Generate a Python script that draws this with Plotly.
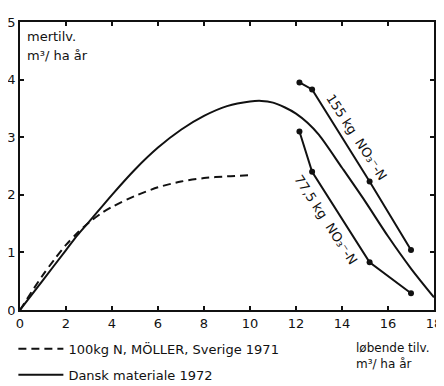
import plotly.graph_objects as go

# ---- data ----
main_x = [0, 1, 2, 2.5, 3, 4, 5, 6, 7, 8, 9, 10, 10.5, 11, 11.5, 12, 12.5, 13, 14, 15, 16, 17, 18]
main_y = [0, 0.52, 1.04, 1.3, 1.53, 2.0, 2.44, 2.82, 3.13, 3.37, 3.54, 3.62, 3.63, 3.6, 3.52, 3.41, 3.25, 3.04, 2.47, 1.89, 1.28, 0.72, 0.22]

moller_x = [0, 0.5, 1, 1.5, 2, 2.5, 3, 3.5, 4, 5, 6, 7, 8, 9, 10]
moller_y = [0, 0.31, 0.61, 0.88, 1.13, 1.34, 1.52, 1.67, 1.79, 1.98, 2.13, 2.23, 2.29, 2.32, 2.34]

n155_x = [12.15, 12.7, 15.2, 17.0]
n155_y = [3.95, 3.83, 2.23, 1.04]

n775_x = [12.15, 12.7, 15.2, 17.0]
n775_y = [3.10, 2.40, 0.83, 0.29]

x_ticks = [0, 2, 4, 6, 8, 10, 12, 14, 16, 18]
y_ticks = [0, 1, 2, 3, 4, 5]

label_155 = "155 kg  NO₃⁻-N"
label_775 = "77,5 kg  NO₃⁻-N"
legend_moller = "100kg N, MÖLLER, Sverige 1971"
legend_dansk = "Dansk materiale 1972"

FONT = "DejaVu Sans"
INK = "#111111"

fig = go.Figure()

fig.add_trace(go.Scatter(
    x=moller_x, y=moller_y, mode="lines", name=legend_moller,
    line=dict(color=INK, width=2, dash="8px,5px", shape="spline", smoothing=0.8),
    legendgroup="a", showlegend=True))

fig.add_trace(go.Scatter(
    x=main_x, y=main_y, mode="lines", name=legend_dansk,
    line=dict(color=INK, width=2, shape="spline", smoothing=0.8),
    legendgroup="b", showlegend=True))

fig.add_trace(go.Scatter(
    x=n155_x, y=n155_y, mode="lines+markers", showlegend=False,
    line=dict(color=INK, width=2), marker=dict(color=INK, size=6)))

fig.add_trace(go.Scatter(
    x=n775_x, y=n775_y, mode="lines+markers", showlegend=False,
    line=dict(color=INK, width=2), marker=dict(color=INK, size=6)))

fig.add_annotation(x=14.65, y=3.0, xref="x", yref="y", text=label_155,
                   textangle=57, showarrow=False,
                   font=dict(family=FONT, size=13, color=INK))
fig.add_annotation(x=13.32, y=1.56, xref="x", yref="y", text=label_775,
                   textangle=57, showarrow=False,
                   font=dict(family=FONT, size=13, color=INK))

fig.add_annotation(x=0.2, y=4.74, xref="x", yref="y", xanchor="left", yanchor="middle",
                   text="mertilv.", showarrow=False, align="left",
                   font=dict(family=FONT, size=13, color=INK))
fig.add_annotation(x=0.2, y=4.41, xref="x", yref="y", xanchor="left", yanchor="middle",
                   text="m³/ ha år", showarrow=False, align="left",
                   font=dict(family=FONT, size=13, color=INK))

fig.add_annotation(x=0.806, y=-0.1, xref="paper", yref="paper", xanchor="left", yanchor="top",
                   text="løbende tilv.<br>m³/ ha år", showarrow=False, align="left",
                   font=dict(family=FONT, size=12, color=INK))

axis_common = dict(showline=True, linecolor=INK, linewidth=2, mirror="ticks",
                   ticks="inside", ticklen=4, tickwidth=2, tickcolor=INK,
                   showgrid=False, zeroline=False,
                   tickfont=dict(family=FONT, size=13, color=INK))

fig.update_xaxes(range=[0, 18], tickvals=x_ticks, ticktext=[str(v) for v in x_ticks], **axis_common)
fig.update_yaxes(range=[0, 5], tickvals=y_ticks, ticktext=[str(v) for v in y_ticks], **axis_common)

# the page body adds an 8px margin, so the figure is 8px smaller on each axis
fig.update_layout(
    width=436, height=378,
    margin=dict(l=12, r=10, t=14, b=76, autoexpand=False),
    paper_bgcolor="white", plot_bgcolor="white",
    font=dict(family=FONT, size=13, color=INK),
    legend=dict(x=-0.016, y=-0.083, xanchor="left", yanchor="top",
                traceorder="grouped", tracegroupgap=6,
                bgcolor="rgba(0,0,0,0)", font=dict(family=FONT, size=13, color=INK),
                itemwidth=45),
)

fig.write_html("out.html")
